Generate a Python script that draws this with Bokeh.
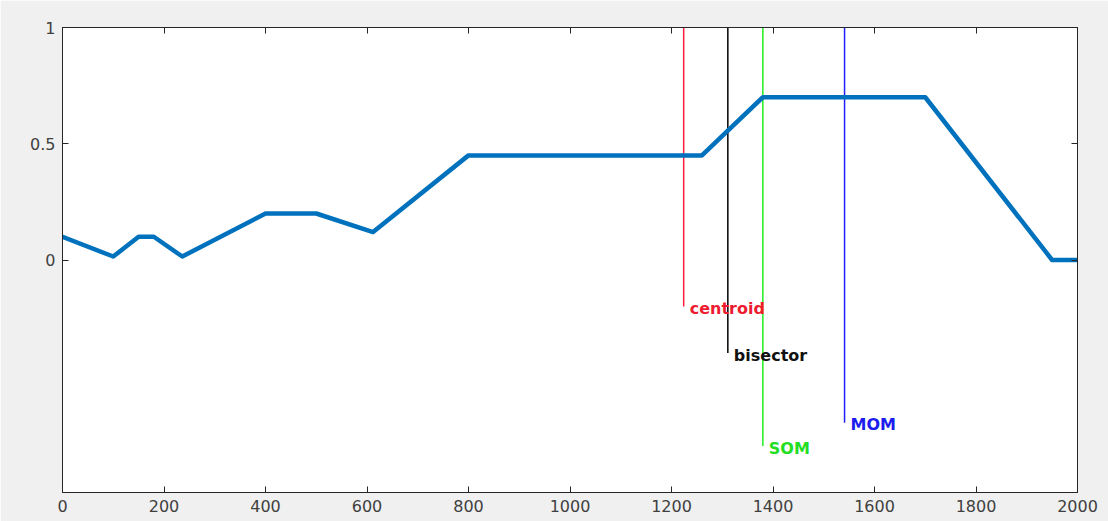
from bokeh.plotting import figure
from bokeh.models import Range1d, LinearAxis, FixedTicker, ColumnDataSource
from bokeh.core.properties import value
from bokeh.embed import file_html
from bokeh.resources import INLINE

# Aggregated output membership function
curve_x = [0, 100, 150, 180, 236, 400, 500, 612, 800, 1260, 1380, 1700, 1950, 2000]
curve_y = [0.1, 0.015, 0.1, 0.1, 0.015, 0.2, 0.2, 0.12, 0.45, 0.45, 0.7, 0.7, 0.0, 0.0]

# Defuzzified values and the lower end of each marker line
method_names = ["centroid", "bisector", "MOM", "SOM"]
method_x = [1224, 1311, 1541, 1380]
method_y_end = [-0.2, -0.4, -0.7, -0.8]
method_colors = ["#ff2040", "#000000", "#2020ff", "#20ee20"]
label_colors = ["#ee1c30", "#111111", "#1c1cee", "#22dd22"]

x_ticks = [0, 200, 400, 600, 800, 1000, 1200, 1400, 1600, 1800, 2000]
y_ticks = [0, 0.5, 1]

p = figure(
    width=1108, height=521,
    x_range=Range1d(0, 2000), y_range=Range1d(-1, 1),
    output_backend="svg", toolbar_location=None,
    min_border_left=62, min_border_right=31,
    min_border_top=27, min_border_bottom=29,
    x_axis_location=None, y_axis_location=None,
)
p.border_fill_color = "#f0f0f0"
p.background_fill_color = "white"
p.outline_line_color = "#262626"
p.outline_line_width = 1
p.xgrid.visible = False
p.ygrid.visible = False


def make_axis(ticks, show_labels):
    ax = LinearAxis(ticker=FixedTicker(ticks=ticks))
    ax.axis_line_color = "#262626"
    ax.major_tick_line_color = "#262626"
    ax.major_tick_in = 6
    ax.major_tick_out = 0
    ax.minor_tick_line_color = None
    ax.major_label_text_font = "DejaVu Sans"
    if show_labels:
        ax.major_label_text_color = "#404040"
        ax.major_label_text_font_size = "16px"
        ax.major_label_standoff = 7
    else:
        # tick marks only, no labels on the top and right sides
        ax.major_label_text_color = None
        ax.major_label_text_font_size = "8px"
        ax.major_label_standoff = 0
    return ax


p.add_layout(make_axis(x_ticks, True), "below")
p.add_layout(make_axis(y_ticks, True), "left")
p.add_layout(make_axis(x_ticks, False), "above")
p.add_layout(make_axis(y_ticks, False), "right")

# Marker lines from the top of the axes down to each label
markers = ColumnDataSource(dict(
    x=method_x, y0=[1.0] * len(method_x), y1=method_y_end,
    color=method_colors, label_color=label_colors, name=method_names,
))
p.segment(x0="x", y0="y0", x1="x", y1="y1", source=markers,
          line_color="color", line_width=1.5)

p.line(curve_x, curve_y, line_color="#0072bd", line_width=4.5,
       line_join="round", line_cap="round")

p.text(x="x", y="y1", text="name", source=markers,
       text_color="label_color", text_font=value("DejaVu Sans"),
       text_font_style="bold", text_font_size="16px",
       text_align="left", text_baseline="middle",
       x_offset=6, y_offset=2)

open("out.html", "w").write(file_html(p, INLINE))
